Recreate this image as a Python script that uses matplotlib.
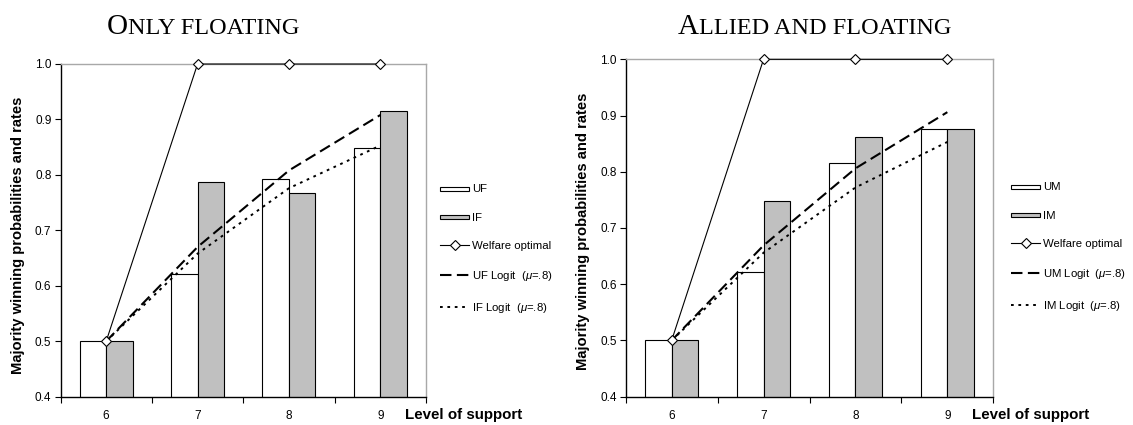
import matplotlib
matplotlib.use('Agg')
import matplotlib.pyplot as plt
import matplotlib.patches as mpatches
from matplotlib.legend_handler import HandlerPatch
from matplotlib.lines import Line2D

# ---------------- data ----------------
levels = [6, 7, 8, 9]
level_labels = ['6', '7', '8', '9']

uf = [0.500, 0.622, 0.793, 0.848]
if_ = [0.500, 0.787, 0.768, 0.916]
welfare_left = [0.5, 1.0, 1.0, 1.0]
uf_logit = [0.500, 0.670, 0.808, 0.908]
if_logit = [0.500, 0.658, 0.776, 0.853]

um = [0.500, 0.622, 0.815, 0.876]
im = [0.500, 0.748, 0.861, 0.876]
welfare_right = [0.5, 1.0, 1.0, 1.0]
um_logit = [0.500, 0.669, 0.806, 0.906]
im_logit = [0.500, 0.656, 0.772, 0.853]

yticks = [0.4, 0.5, 0.6, 0.7, 0.8, 0.9, 1.0]

# ---------------- style ----------------
plt.rcParams['font.family'] = ['Liberation Sans', 'DejaVu Sans']
plt.rcParams['mathtext.fontset'] = 'custom'
plt.rcParams['mathtext.rm'] = 'Liberation Sans'
plt.rcParams['mathtext.it'] = 'Liberation Sans:italic'

W, H = 1133, 425
fig = plt.figure(figsize=(W / 100, H / 100), dpi=100)
fig.patch.set_facecolor('white')

GRAY = '#C0C0C0'
BW = 0.29
DASH = (5.5, 2.6)
DOT = (1.4, 2.4)


def px_rect(x0, y0, x1, y1):
    return [x0 / W, 1 - y1 / H, (x1 - x0) / W, (y1 - y0) / H]


def thin_rect(legend, orig_handle, xdescent, ydescent, width, height, fontsize):
    h = height * 0.5
    return mpatches.Rectangle((-xdescent, -ydescent + (height - h) / 2), width, h)


def panel(rect, a, b, welfare, la, lb, names, legend_xy, ylabel_xy, los_x):
    ax = fig.add_axes(rect)
    x = list(levels)
    ax.bar([v - BW / 2 for v in x], a, width=BW, color='white', edgecolor='black',
           linewidth=0.8, zorder=2)
    ax.bar([v + BW / 2 for v in x], b, width=BW, color=GRAY, edgecolor='black',
           linewidth=0.8, zorder=2)
    ax.plot(x, la, color='black', lw=1.5, dashes=DASH, zorder=3, clip_on=False)
    ax.plot(x, lb, color='black', lw=1.4, dashes=DOT, zorder=3, clip_on=False)
    ax.plot(x, welfare, color='black', lw=0.8, marker='D', ms=5.2, mfc='white',
            mec='black', mew=0.8, zorder=4, clip_on=False)

    ax.set_xlim(5.5, 9.5)
    ax.set_ylim(0.4, 1.0)
    ax.set_xticks([5.5, 6.5, 7.5, 8.5, 9.5])
    ax.set_xticklabels([])
    ax.set_xticks(x, minor=True)
    ax.set_xticklabels(level_labels, minor=True)
    ax.tick_params(axis='x', which='major', direction='out', length=4, width=0.8)
    ax.tick_params(axis='x', which='minor', length=0, pad=9.5, labelsize=8.5)
    ax.set_yticks(yticks)
    ax.set_yticklabels(['%.1f' % v for v in yticks])
    ax.tick_params(axis='y', direction='out', length=4, width=0.8, pad=2.5, labelsize=8.5)
    for s in ['left', 'bottom']:
        ax.spines[s].set_color('black')
        ax.spines[s].set_linewidth(1.0)
    for s in ['top', 'right']:
        ax.spines[s].set_color('#A8A8A8')
        ax.spines[s].set_linewidth(1.0)

    fig.text(ylabel_xy[0] / W, 1 - ylabel_xy[1] / H,
             'Majority winning probabilities and rates', rotation=90,
             ha='center', va='center', fontsize=10.6, fontweight='bold')
    fig.text(los_x / W, 1 - 419.5 / H, 'Level of support', ha='left',
             va='baseline', fontsize=10.9, fontweight='bold')

    handles = [
        mpatches.Patch(facecolor='white', edgecolor='black', linewidth=0.8),
        mpatches.Patch(facecolor=GRAY, edgecolor='black', linewidth=0.8),
        Line2D([], [], color='black', lw=0.8, marker='D', ms=5, mfc='white',
               mec='black', mew=0.8),
        Line2D([], [], color='black', lw=1.5, dashes=DASH),
        Line2D([], [], color='black', lw=1.4, dashes=DOT),
    ]
    fig.legend(handles, names, loc='upper left',
               bbox_to_anchor=(legend_xy[0] / W, 1 - legend_xy[1] / H),
               frameon=False, fontsize=8.2, handlelength=2.55, handletextpad=0.25,
               labelspacing=1.6, borderpad=0, borderaxespad=0, numpoints=1,
               handler_map={mpatches.Patch: HandlerPatch(patch_func=thin_rect)})
    return ax


panel(px_rect(60.5, 64, 426, 396.7), uf, if_, welfare_left, uf_logit, if_logit,
      ['UF', 'IF', 'Welfare optimal', r'UF Logit  ($\mu$=.8)', r'IF Logit  ($\mu$=.8)'],
      (440, 184.5), (18.3, 235), 405)
panel(px_rect(625.7, 59.3, 993.3, 396.7), um, im, welfare_right, um_logit, im_logit,
      ['UM', 'IM', 'Welfare optimal', r'UM Logit  ($\mu$=.8)', r'IM Logit  ($\mu$=.8)'],
      (1011, 182.5), (583, 231.5), 971.5)

# small-caps titles
SERIF = ['Liberation Serif', 'DejaVu Serif']
renderer = fig.canvas.get_renderer()


def smallcaps(x_px, base_px, big, rest):
    t1 = fig.text(x_px / W, 1 - base_px / H, big, ha='left', va='baseline',
                  fontsize=21, family=SERIF)
    bb = t1.get_window_extent(renderer)
    fig.text(bb.x1 / W, 1 - base_px / H, rest, ha='left', va='baseline',
             fontsize=17.5, family=SERIF)


smallcaps(107, 34.3, 'O', 'NLY FLOATING')
smallcaps(678, 34.3, 'A', 'LLIED AND FLOATING')

fig.savefig('out.png', dpi=100, facecolor='white')
